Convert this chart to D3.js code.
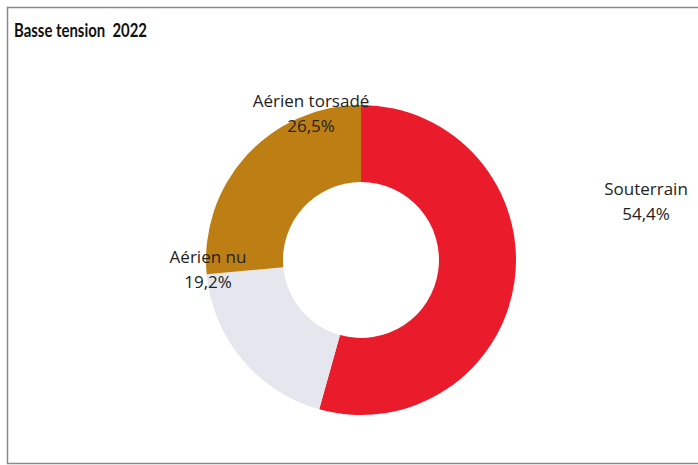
<!DOCTYPE html>
<html>
<head>
<meta charset="utf-8">
<script src="https://cdn.jsdelivr.net/npm/d3@7"></script>
<style>
  body { margin: 0; background: #fff; }
</style>
</head>
<body>
<div id="chart"></div>
<script>
// values
var categories = ["Souterrain", "Aérien nu", "Aérien torsadé"];
var shares = [54.4, 19.2, 26.5];
var labels = ["54,4%", "19,2%", "26,5%"];
var colors = ["#ea1c2b", "#e6e7ee", "#bd7f14"];

var width = 698, height = 465;
var cx = 361, cy = 260,
    outerR = 155, innerR = 78;

var svg = d3.select("#chart")
    .append("svg")
    .attr("width", width)
    .attr("height", height);

// frame (right edge is cut off in the scan)
svg.append("path")
    .attr("d", "M698,7.5 L7.5,7.5 L7.5,463.5 L698,463.5")
    .attr("fill", "none")
    .attr("stroke", "#8a8a8a")
    .attr("stroke-width", 1.5);

svg.append("text")
    .attr("x", 14)
    .attr("y", 37)
    .attr("textLength", 133)
    .attr("lengthAdjust", "spacingAndGlyphs")
    .text("Basse tension  2022")
    .style("font-family", "Lato, 'Open Sans', Arial, sans-serif")
    .style("font-weight", "bold")
    .style("font-size", "18px")
    .style("white-space", "pre")
    .style("fill", "#111");

var data = categories.map(function(c, i) {
    return { category: c, value: shares[i], label: labels[i], color: colors[i] };
});

var pie = d3.pie()
    .sort(null)
    .value(function(d) { return d.value; });

var arc = d3.arc()
    .innerRadius(innerR)
    .outerRadius(outerR);

var g = svg.append("g")
    .attr("transform", "translate(" + cx + "," + cy + ")");

g.selectAll("path.slice")
    .data(pie(data))
    .enter()
    .append("path")
    .attr("class", "slice")
    .attr("d", arc)
    .style("fill", function(d) { return d.data.color; });

// label anchor points (name line baseline) relative to the donut centre
var labelPos = {
    "Souterrain": [285, -65],
    "Aérien nu": [-153, 3],
    "Aérien torsadé": [-50, -153]
};

var labelG = g.selectAll("g.lbl")
    .data(pie(data))
    .enter()
    .append("g")
    .attr("class", "lbl")
    .attr("transform", function(d) {
        var p = labelPos[d.data.category];
        return "translate(" + p[0] + "," + p[1] + ")";
    });

labelG.append("text")
    .attr("text-anchor", "middle")
    .text(function(d) { return d.data.category; })
    .style("font-family", "'Open Sans', Lato, Arial, sans-serif")
    .style("font-size", "17px")
    .style("fill", "#222");

labelG.append("text")
    .attr("y", 25)
    .attr("text-anchor", "middle")
    .text(function(d) { return d.data.label; })
    .style("font-family", "'Open Sans', Lato, Arial, sans-serif")
    .style("font-size", "17px")
    .style("fill", "#222");
</script>
</body>
</html>
